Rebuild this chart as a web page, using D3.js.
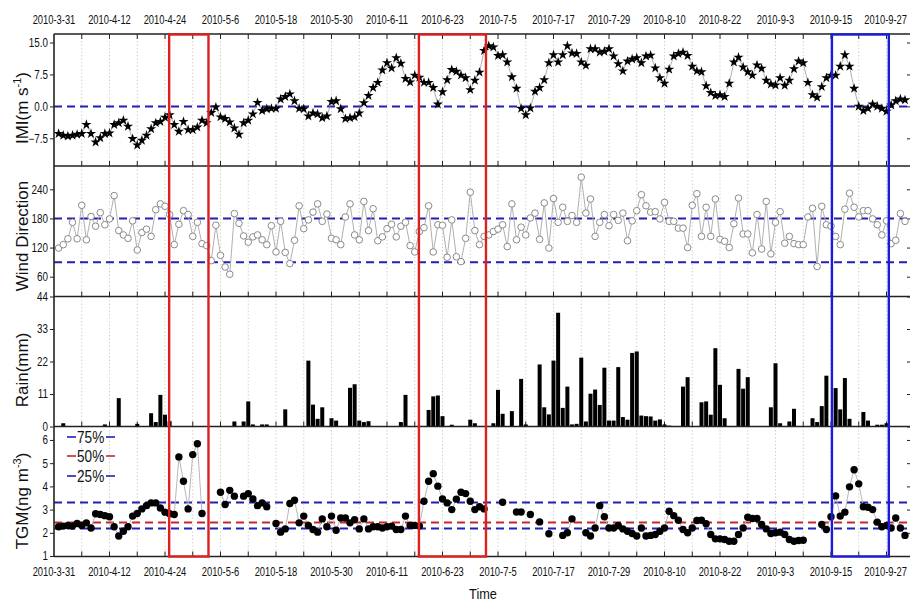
<!DOCTYPE html>
<html><head><meta charset="utf-8">
<script src="https://cdn.jsdelivr.net/npm/d3@7"></script>
<style>body{margin:0;background:#fff}svg{display:block}</style>
</head><body>
<svg id="c" width="910" height="603"></svg>
<script>
// ---------------- data ----------------
const dateLabels = ["2010-3-31","2010-4-12","2010-4-24","2010-5-6","2010-5-18","2010-5-30","2010-6-11","2010-6-23",
  "2010-7-5","2010-7-17","2010-7-29","2010-8-10","2010-8-22","2010-9-3","2010-9-15","2010-9-27"];
// daily values, day 1 = 2010-4-1 ... day 184
const imi = [-6.4,-6.8,-7.0,-6.8,-6.6,-6.4,-4.3,-6.4,-8.4,-7.4,
  -6.4,-6.3,-4.3,-3.9,-3.3,-4.7,-7.6,-9.1,-8.0,-6.8,
  -5.3,-3.9,-3.6,-2.6,-2.0,-4.3,-5.9,-3.6,-5.5,-5.5,
  -4.9,-3.3,-3.9,-1.5,-0.2,-2.5,-2.9,-3.7,-5.1,-6.6,
  -3.9,-3.3,-1.8,0.9,-1.0,-0.6,-0.5,-0.5,1.7,2.3,
  2.9,1.3,-0.5,-0.6,-2.3,-1.6,-1.8,-2.7,-2.3,1.1,
  1.3,-0.6,-2.9,-2.7,-2.5,-1.6,0.8,2.5,4.4,5.6,
  8.5,10.2,9.0,11.4,10.1,6.5,5.7,7.3,6.8,5.6,
  5.6,4.4,0.5,3.4,6.2,8.6,8.2,7.3,6.7,3.9,
  6.1,8.0,13.1,14.2,13.9,11.9,12.1,10.4,6.9,4.2,
  -0.5,-2.0,-0.4,3.5,4.4,6.2,10.2,12.1,10.4,12.1,
  14.2,12.5,12.4,10.4,9.6,13.5,13.5,12.7,12.9,13.5,
  11.8,10.0,8.3,10.6,11.1,11.4,10.2,11.8,12.0,9.0,
  6.7,5.4,8.7,11.8,12.4,12.7,11.9,9.4,8.3,8.1,
  4.8,3.2,2.5,2.7,2.3,5.4,10.4,11.5,9.2,8.1,
  7.3,9.7,8.9,6.1,5.2,5.0,6.7,4.9,6.1,8.8,
  10.6,10.2,5.6,2.7,2.1,4.6,6.7,7.3,7.3,9.4,
  12.1,9.4,4.2,0.0,-1.0,-0.5,0.5,0.0,-0.5,-1.2,
  0.3,1.3,1.7,1.5];
const windDir = [119,126,138,172,138,207,136,184,164,192,
  167,179,227,155,146,139,175,115,151,158,
  143,198,210,205,188,126,168,196,188,143,
  172,128,124,93,166,104,80,65,190,170,
  144,131,142,146,136,126,165,111,174,110,
  87,135,206,159,177,193,210,174,189,139,
  136,126,183,210,146,136,215,155,200,134,
  142,159,168,142,164,172,124,111,153,161,
  206,111,167,166,100,177,101,91,139,234,
  155,126,143,146,153,158,167,122,210,136,
  162,146,181,191,137,212,119,221,172,203,
  174,186,172,265,191,220,143,172,188,165,
  188,176,191,134,175,196,229,206,193,194,
  179,213,174,174,160,160,120,207,231,143,
  203,143,220,137,133,120,169,222,148,148,
  109,188,117,215,107,172,194,129,143,128,
  126,126,183,201,81,205,167,164,143,126,
  199,232,203,183,196,196,179,167,146,175,
  128,135,190,174];
const rainDays = [2,11,14,18,21,22,23,24,25,39,41,42,43,45,46,50,55,56,57,58,60,61,64,65,66,67,68,75,76,81,82,83,84,86,
  90,91,95,96,97,99,101,102,105,106,107,108,109,110,111,112,113,114,115,116,117,118,119,120,121,122,123,124,125,126,127,128,129,130,131,132,133,
  136,137,139,140,141,142,143,144,145,148,149,150,155,156,157,159,160,164,165,166,167,169,170,171,172,175,176,178,179,180];
const rainMm = [1.1,0.7,9.6,0.9,4.5,1.5,10.7,4.0,1.8,1.7,1.7,8.5,0.7,0.7,0.7,5.8,22.3,7.4,2.6,6.5,2.8,2.0,13.1,14.3,2.0,1.5,1.8,1.5,10.7,5.6,10.2,10.5,3.5,0.6,
  2.3,1.1,1.1,12.4,4.3,5.2,16.1,0.7,21.0,6.5,4.1,22.3,38.5,6.3,13.5,0.7,0.9,23.3,1.7,11.1,12.5,7.3,19.9,2.0,2.0,20.1,3.2,2.3,24.9,25.4,3.7,3.5,3.4,2.0,2.4,0.7,0.3,
  13.5,16.7,0.1,8.2,8.5,4.0,26.5,14.1,2.8,19.5,12.8,16.7,6.5,21.4,1.1,1.7,6.0,2.8,1.5,6.9,17.2,13.0,5.8,16.4,2.6,4.9,2.0,0.6,0.6,1.1];
const tgm = [2.26,2.29,2.32,2.29,2.40,2.32,2.43,2.21,2.82,2.79,
  2.74,2.69,2.26,1.86,2.07,2.26,2.72,2.83,3.03,3.17,
  3.29,3.29,3.07,2.89,2.82,2.79,5.27,4.22,3.03,5.37,
  5.84,2.83,null,null,null,3.75,3.22,3.83,3.58,null,
  3.58,3.69,3.46,3.17,3.29,3.12,null,2.40,2.03,2.17,
  3.26,3.40,2.43,2.72,2.32,2.14,2.03,2.60,2.26,2.72,
  2.11,2.64,2.64,2.43,2.57,2.17,2.60,2.17,2.26,2.26,
  2.21,2.26,2.29,2.14,2.14,2.72,2.32,2.32,2.29,3.36,
  4.22,4.55,4.01,3.46,3.29,3.00,3.45,3.75,3.69,3.36,
  3.00,3.12,3.03,null,null,null,3.32,null,null,2.90,
  2.90,null,2.79,null,2.47,null,1.96,null,null,1.89,
  2.00,2.60,null,null,2.00,1.86,2.21,3.17,2.69,2.21,
  2.21,2.32,2.17,2.07,1.97,1.86,2.21,1.86,1.89,1.93,
  2.07,2.21,2.93,2.74,2.54,2.14,2.00,2.21,2.53,2.54,
  2.39,1.93,1.74,1.74,1.71,1.64,1.64,1.93,2.21,2.67,
  2.62,2.62,2.36,2.17,1.97,2.00,2.03,1.93,1.71,1.64,
  1.67,1.68,null,null,null,2.36,2.14,2.69,3.59,2.72,
  2.89,3.98,4.72,4.11,3.12,3.10,3.00,2.46,2.26,2.32,
  2.21,2.64,2.21,1.89];
const tgmPercentiles = [["75%",3.31],["50%",2.45],["25%",2.19]];
const windRefs = [180, 90];
const imiRefs = [0];
// highlighted episodes (day offsets from 2010-3-31)
const episodeStart = [24.9, 78.9, 168.2];
const episodeEnd = [33.4, 93.4, 180.5];
const episodeKind = ["red","red","blue"];

// ---------------- layout ----------------
const svg = d3.select("#c");
const FONT = "'Liberation Sans',Arial,sans-serif";
function condense(sel, f) {
  sel.each(function() {
    const w = this.getComputedTextLength();
    if (w > 0) d3.select(this).attr("textLength", w * f).attr("lengthAdjust", "spacingAndGlyphs");
  });
}
const L = 54, R = 907;
const x = d3.scaleLinear().domain([0, 184]).range([L, 905]);
const BLUE = "#2020b4", RED = "#c8282a";

const panels = [
  {top:34, bottom:166, domain:[-14,17], ticks:[15,7.5,0,-7.5], fmt:d3.format(".1f")},
  {top:166, bottom:296.5, domain:[19.2,288], ticks:[60,120,180,240], fmt:d3.format("d")},
  {top:296.5, bottom:426.5, domain:[0,44], ticks:[0,11,22,33,44], fmt:d3.format("d")},
  {top:426.5, bottom:556.5, domain:[0.98,6.58], ticks:[1,2,3,4,5,6], fmt:d3.format("d")}
];
panels.forEach(p => { p.y = d3.scaleLinear().domain(p.domain).range([p.bottom, p.top]); });

const gridDays = d3.range(6, 184, 6);
const labelDays = dateLabels.map((d,i)=>i*12);

// grid + ticks
panels.forEach((p,pi) => {
  svg.append("g").selectAll("line").data(gridDays).join("line")
    .attr("x1", d=>x(d)).attr("x2", d=>x(d)).attr("y1", p.top).attr("y2", p.bottom)
    .attr("stroke", "#c8c8c8").attr("stroke-width", 0.8).attr("stroke-dasharray", "1.5,2");
  svg.append("g").selectAll("line").data(gridDays).join("line")
    .attr("x1", d=>x(d)).attr("x2", d=>x(d)).attr("y1", p.bottom).attr("y2", p.bottom-5)
    .attr("stroke", "#222").attr("stroke-width", 1);
  if (pi === 0) {
    svg.append("g").selectAll("line").data(gridDays).join("line")
      .attr("x1", d=>x(d)).attr("x2", d=>x(d)).attr("y1", p.top).attr("y2", p.top+5)
      .attr("stroke", "#222").attr("stroke-width", 1);
  }
  const ga = svg.append("g").attr("transform", `translate(${L},0)`)
    .call(d3.axisLeft(p.y).tickValues(p.ticks).tickFormat(p.fmt).tickSize(4).tickPadding(2));
  ga.select(".domain").remove();
  ga.selectAll("text").attr("font-family", FONT).attr("font-size", 12).attr("fill", "#111").call(condense, 0.82);
  ga.selectAll("line").attr("stroke", "#222");
  const gr = svg.append("g").attr("transform", `translate(${R},0)`)
    .call(d3.axisRight(p.y).tickValues(p.ticks).tickFormat("").tickSize(3));
  gr.select(".domain").remove();
  gr.selectAll("line").attr("stroke", "#222");
});

// reference lines
const dashLine = (yv, color) => svg.append("line").attr("x1", L).attr("x2", R)
  .attr("y1", yv).attr("y2", yv).attr("stroke", color).attr("stroke-width", 2).attr("stroke-dasharray", "8,5");
imiRefs.forEach(v => dashLine(panels[0].y(v), BLUE));
windRefs.forEach(v => dashLine(panels[1].y(v), BLUE));
tgmPercentiles.forEach(([lab, v], i) => dashLine(panels[3].y(v), i === 1 ? RED : BLUE));

const days = d3.range(1, 185);
// panel 1: IMI
const p1 = panels[0];
svg.append("path").datum(imi)
  .attr("d", d3.line().x((d,i)=>x(days[i])).y(d=>p1.y(d)))
  .attr("fill", "none").attr("stroke", "#9a9a9a").attr("stroke-width", 0.8);
svg.append("g").selectAll("path").data(imi).join("path")
  .attr("transform", (d,i)=>`translate(${x(days[i])},${p1.y(d)})`)
  .attr("d", d3.symbol(d3.symbolStar).size(32)).attr("fill", "#000");

// panel 2: wind direction
const p2 = panels[1];
svg.append("path").datum(windDir)
  .attr("d", d3.line().x((d,i)=>x(days[i])).y(d=>p2.y(d)))
  .attr("fill", "none").attr("stroke", "#b0b0b0").attr("stroke-width", 1);
svg.append("g").selectAll("circle").data(windDir).join("circle")
  .attr("cx", (d,i)=>x(days[i])).attr("cy", d=>p2.y(d)).attr("r", 3.3)
  .attr("fill", "#fff").attr("stroke", "#8a8a8a").attr("stroke-width", 1);

// panel 3: rain
const p3 = panels[2];
svg.append("g").selectAll("rect").data(rainMm).join("rect")
  .attr("x", (d,i)=>x(rainDays[i]) - 2).attr("width", 4)
  .attr("y", d=>p3.y(d)).attr("height", d=>p3.y(0) - p3.y(d)).attr("fill", "#000");

// panel 4: TGM
const p4 = panels[3];
svg.append("path").datum(tgm)
  .attr("d", d3.line().defined(d=>d!==null).x((d,i)=>x(days[i])).y(d=>p4.y(d)))
  .attr("fill", "none").attr("stroke", "#b8b8b8").attr("stroke-width", 1);
svg.append("g").selectAll("circle").data(tgm.map((v,i)=>[days[i],v]).filter(d=>d[1]!==null)).join("circle")
  .attr("cx", d=>x(d[0])).attr("cy", d=>p4.y(d[1])).attr("r", 3.7).attr("fill", "#000");

// legend
tgmPercentiles.forEach(([lab, v], i) => {
  const col = i === 1 ? RED : BLUE;
  const yy = [437, 456, 476][i];
  svg.append("line").attr("x1", 67).attr("x2", 76).attr("y1", yy).attr("y2", yy).attr("stroke", col).attr("stroke-width", 1.6);
  svg.append("line").attr("x1", 106).attr("x2", 115).attr("y1", yy).attr("y2", yy).attr("stroke", col).attr("stroke-width", 1.6);
  svg.append("text").attr("x", 77).attr("y", yy).attr("dy", "0.35em")
    .attr("font-family", FONT).attr("font-size", 16).attr("fill", "#111").text(lab).call(condense, 0.85);
});

// panel borders
panels.forEach(p => {
  svg.append("line").attr("x1", L).attr("x2", 910).attr("y1", p.top).attr("y2", p.top).attr("stroke", "#222").attr("stroke-width", 1.6);
});
svg.append("line").attr("x1", L).attr("x2", 910).attr("y1", 556.5).attr("y2", 556.5).attr("stroke", "#222").attr("stroke-width", 1.6);
svg.append("line").attr("x1", L).attr("x2", L).attr("y1", 34).attr("y2", 557).attr("stroke", "#222").attr("stroke-width", 1.6);

// highlight boxes
episodeStart.forEach((s, i) => {
  svg.append("rect").attr("x", x(s)).attr("y", 34.5).attr("width", x(episodeEnd[i]) - x(s)).attr("height", 522)
    .attr("fill", "none").attr("stroke", episodeKind[i] === "red" ? "#dd1f1f" : "#1c1cd8").attr("stroke-width", 2.4);
});

// date labels top & bottom (last label right-aligned to stay inside the page)
const lastIdx = dateLabels.length - 1;
[20, 572].forEach(yy => {
  svg.append("g").selectAll("text").data(dateLabels).join("text")
    .attr("x", (d,i)=> i === lastIdx ? 907 : x(labelDays[i]))
    .attr("y", yy).attr("dy", "0.35em")
    .attr("text-anchor", (d,i)=> i === lastIdx ? "end" : "middle")
    .attr("font-family", FONT).attr("font-size", 12).attr("fill", "#111").text(d=>d).call(condense, 0.78);
});

// axis titles
const titleG = svg.append("g").attr("font-family", FONT).attr("font-size", 17).attr("fill", "#111");
function vtitle(cy, build) {
  const t = titleG.append("text").attr("transform", `translate(28,${cy}) rotate(-90)`).attr("text-anchor", "middle");
  build(t);
}
vtitle(108, t => { t.append("tspan").text("IMI(m s"); t.append("tspan").attr("font-size", 11).attr("dy", -7).text("-1"); t.append("tspan").attr("dy", 7).text(")"); });
vtitle(236, t => t.text("Wind Direction"));
vtitle(370, t => t.text("Rain(mm)"));
vtitle(501, t => { t.append("tspan").text("TGM(ng m"); t.append("tspan").attr("font-size", 11).attr("dy", -7).text("-3"); t.append("tspan").attr("dy", 7).text(")"); });

svg.append("text").attr("x", 483).attr("y", 594).attr("dy", "0.35em").attr("text-anchor", "middle")
  .attr("font-family", FONT).attr("font-size", 15).attr("fill", "#111").text("Time").call(condense, 0.85);
</script>
</body></html>
